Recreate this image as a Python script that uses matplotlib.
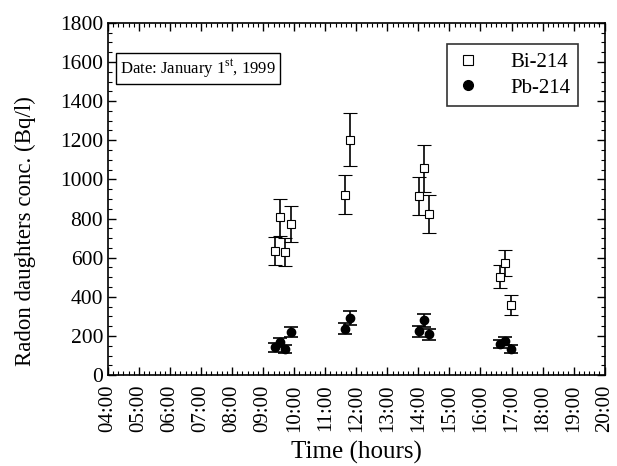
import numpy as np
import matplotlib
matplotlib.use('Agg')
from matplotlib import pyplot as plt
from matplotlib.ticker import MultipleLocator
from matplotlib.lines import Line2D

plt.rcParams['font.family'] = ['Liberation Serif', 'DejaVu Serif']
plt.rcParams['mathtext.fontset'] = 'custom'
plt.rcParams['mathtext.rm'] = 'Liberation Serif'

# sampling times (decimal hours)
bi_time = [9.37, 9.55, 9.71, 9.89, 11.65, 11.81, 14.02, 14.19, 14.35, 16.62, 16.80, 16.97]
bi_conc = [636, 807, 629, 771, 921, 1203, 916, 1056, 822, 503, 572, 358]
bi_err = [72, 94, 73, 92, 100, 137, 98, 121, 98, 58, 68, 50]

pb_time = [9.37, 9.55, 9.71, 9.89, 11.65, 11.81, 14.02, 14.19, 14.35, 16.62, 16.80, 16.97]
pb_conc = [142, 167, 133, 220, 237, 292, 225, 280, 208, 157, 174, 133]
pb_err = [22, 24, 22, 27, 29, 35, 28, 32, 28, 20, 22, 20]

hours = list(range(4, 21))
hour_labels = ['%02d:00' % h for h in hours]

fig = plt.figure(figsize=(6.17, 4.66), dpi=100)
ax = fig.add_axes([0.175, 0.195, 0.805, 0.756])

ax.errorbar(bi_time, bi_conc, yerr=bi_err, fmt='s', mfc='white', mec='black',
            ms=6, mew=0.8, ecolor='black', elinewidth=1.2, capsize=5, capthick=1.2)
ax.errorbar(pb_time, pb_conc, yerr=pb_err, fmt='o', mfc='black', mec='black',
            ms=6, ecolor='black', elinewidth=1.2, capsize=5, capthick=1.2)

ax.set_xlim(4, 20)
ax.set_ylim(0, 1800)
ax.set_xticks(hours)
ax.set_xticklabels(hour_labels, rotation=90)
ax.xaxis.set_minor_locator(MultipleLocator(1 / 6))
ax.yaxis.set_major_locator(MultipleLocator(200))
ax.yaxis.set_minor_locator(MultipleLocator(50))
ax.tick_params(which='both', direction='in', top=True, right=True, labelsize=15.5)
ax.tick_params(axis='x', labelsize=15, pad=7)
ax.tick_params(which='major', length=6, width=1)
ax.tick_params(which='minor', length=3, width=0.8)
for s in ax.spines.values():
    s.set_linewidth(1.2)

ax.set_xlabel('Time (hours)', fontsize=18, labelpad=6)
ax.set_ylabel('Radon daughters conc. (Bq/l)', fontsize=16.5, labelpad=16)
ax.yaxis.set_label_coords(-0.145, 0.41)

ax.text(0.025, 0.87, 'Date: January 1$^{\\rm st}$, 1999', transform=ax.transAxes,
        fontsize=12, va='center', ha='left',
        bbox=dict(boxstyle='square,pad=0.25', fc='white', ec='black', lw=1))

handles = [Line2D([], [], ls='none', marker='s', mfc='white', mec='black', ms=7, mew=0.8),
           Line2D([], [], ls='none', marker='o', mfc='black', mec='black', ms=7)]
leg = ax.legend(handles, ['Bi-214', 'Pb-214'], loc='upper right', fontsize=15,
                frameon=True, fancybox=False, edgecolor='black',
                bbox_to_anchor=(0.947, 0.94), borderaxespad=0,
                handletextpad=1.4, handlelength=1.2, labelspacing=0.3)
leg.get_frame().set_linewidth(1.2)

fig.savefig('out.png', dpi=100)
